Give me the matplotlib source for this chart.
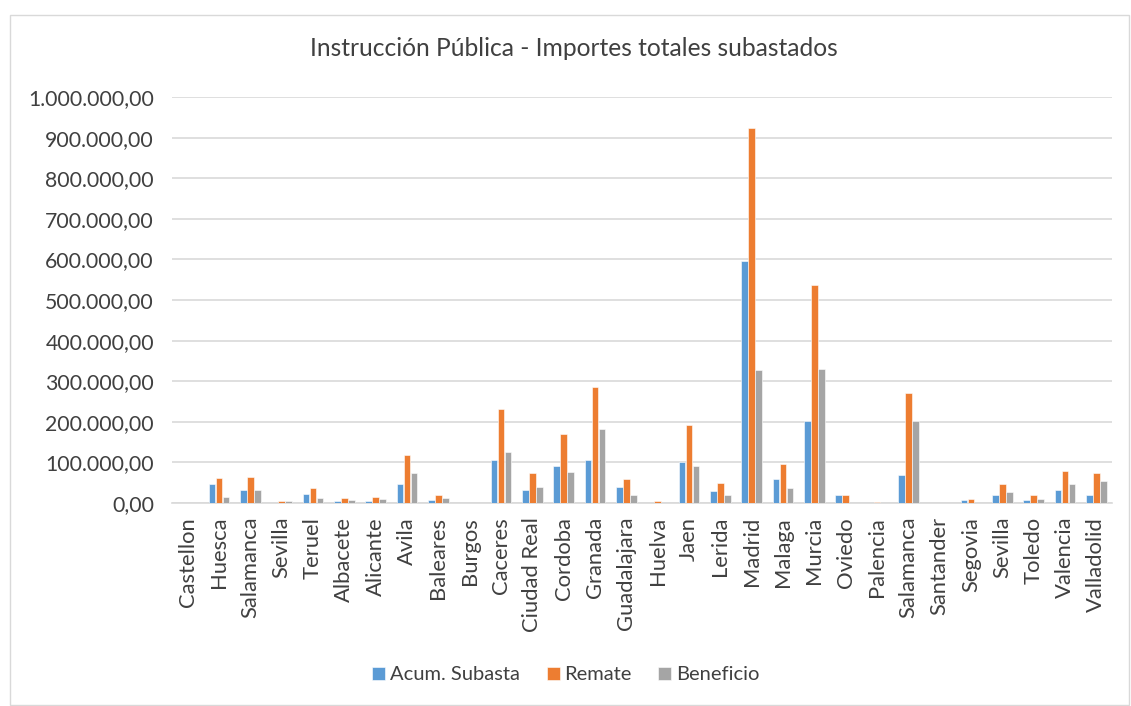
import matplotlib
matplotlib.use("Agg")
import matplotlib.pyplot as plt
import numpy as np
from matplotlib.ticker import FuncFormatter, MultipleLocator
from matplotlib.patches import Rectangle

categories = ["Castellon", "Huesca", "Salamanca", "Sevilla", "Teruel", "Albacete",
              "Alicante", "Avila", "Baleares", "Burgos", "Caceres", "Ciudad Real",
              "Cordoba", "Granada", "Guadalajara", "Huelva", "Jaen", "Lerida",
              "Madrid", "Malaga", "Murcia", "Oviedo", "Palencia", "Salamanca",
              "Santander", "Segovia", "Sevilla", "Toledo", "Valencia", "Valladolid"]
acum_subasta = [0, 47500, 32000, 0, 22000, 5000, 5000, 46000, 8000, 0, 105000, 33000,
                92000, 105000, 40000, 0, 101000, 30000, 595000, 58500, 203000, 20000,
                0, 70000, 0, 6500, 19000, 8000, 31000, 20000]
remate = [0, 62000, 63000, 5000, 36000, 12000, 16000, 119000, 19000, 0, 231000, 73000,
          171000, 286000, 60000, 4000, 191000, 49000, 924000, 95000, 536000, 20000,
          3000, 272000, 0, 9000, 47000, 19000, 80000, 75000]
beneficio = [0, 14000, 32000, 4000, 11500, 7000, 10000, 74000, 12000, 0, 126000, 40000,
             77000, 182000, 19000, 0, 91000, 19500, 327000, 38000, 330000, 0,
             0, 202000, 0, 0, 27000, 10000, 47000, 53000]
series_names = ["Acum. Subasta", "Remate", "Beneficio"]
colors = ["#5B9BD5", "#ED7D31", "#A5A5A5"]

FONT = ["Lato", "DejaVu Sans"]
plt.rcParams['font.family'] = FONT

fig = plt.figure(figsize=(11.31, 7.06), dpi=100)
fig.patches.append(Rectangle((10/1131, 0.002), 1119/1131, (696-10)/706 + 0.005,
                             transform=fig.transFigure, fill=False,
                             edgecolor="#D9D9D9", linewidth=1))
ax = fig.add_axes([172/1131, (706-503)/706, (1112-172)/1131, (503-97)/706])

x = np.arange(len(categories))
w = 0.21
step = 0.225
for i, (vals, name, c) in enumerate(zip([acum_subasta, remate, beneficio], series_names, colors)):
    ax.bar(x + (i - 1) * step, vals, width=w, color=c, label=name,
           edgecolor="white", linewidth=0.4, zorder=3)

ax.set_xlim(-0.5, len(categories) - 0.5)
ax.set_ylim(0, 1000000)
ax.yaxis.set_major_locator(MultipleLocator(100000))

def fmt(v, pos):
    s = f"{v:,.2f}"
    return s.replace(",", "X").replace(".", ",").replace("X", ".")
ax.yaxis.set_major_formatter(FuncFormatter(fmt))

ax.grid(axis="y", color="#D9D9D9", linewidth=1.2, zorder=0)
for sp in ["top", "right", "left"]:
    ax.spines[sp].set_visible(False)
ax.spines["bottom"].set_color("#D9D9D9")
ax.spines["bottom"].set_linewidth(1.2)
ax.set_xticks(x)
ax.set_xticklabels(categories, rotation=90, fontsize=15.8, color="#404040")
ax.tick_params(axis="both", length=0, pad=10)
ax.tick_params(axis="y", labelsize=15.3, labelcolor="#404040", pad=13)

fig.text(574/1131, (706-48)/706, "Instrucción Pública - Importes totales subastados",
         ha="center", va="center", fontsize=17.7, color="#404040")

leg = fig.legend(loc="center", bbox_to_anchor=(566/1131, (706-675)/706), ncol=3,
                 frameon=False, fontsize=14.5, handlelength=0.65, handleheight=0.65,
                 handletextpad=0.25, columnspacing=1.3)
for t in leg.get_texts():
    t.set_color("#404040")

fig.savefig("out.png", dpi=100)
